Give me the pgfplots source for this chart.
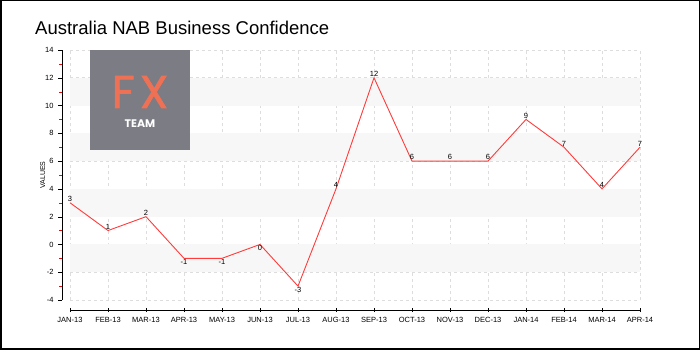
\documentclass[border=0pt]{standalone}
\usepackage{pgfplots}
\pgfplotsset{compat=1.18}
\usepackage{fontspec}
\setmainfont{Liberation Sans}
\newfontfamily\pop{Poppins}
\newfontfamily\popfx[FakeBold=1.5]{Poppins}
\definecolor{bandgray}{HTML}{F7F7F7}
\definecolor{gridgray}{HTML}{DDDDDD}
\definecolor{logogray}{HTML}{7B7C84}
\definecolor{fxorange}{HTML}{EE7155}
\definecolor{linered}{HTML}{FF3B3B}
\begin{document}
\begin{tikzpicture}[x=1pt,y=1pt]
\draw[black, line width=1.5pt] (0.75,0.75) rectangle (699.25,349.25);
\node[anchor=base west, inner sep=0pt, font=\fontsize{18.5}{18.5}\selectfont] at (35,315) {Australia NAB Business Confidence};
\begin{axis}[
  at={(70pt,50pt)}, anchor=south west,
  scale only axis, width=570pt, height=250pt,
  xmin=0, xmax=15, ymin=-4, ymax=14,
  clip=false,
  /pgf/number format/assume math mode=true,
  axis x line*=bottom, axis y line*=left,
  axis x line shift=10pt, axis y line shift=8pt,
  xtick={0,...,15},
  xticklabels={JAN-13,FEB-13,MAR-13,APR-13,MAY-13,JUN-13,JUL-13,AUG-13,SEP-13,OCT-13,NOV-13,DEC-13,JAN-14,FEB-14,MAR-14,APR-14},
  ytick={-4,-2,...,14},
  minor y tick num=1,
  minor tick style={red},
  major tick style={black},
  major tick length=4pt, minor tick length=3pt,
  tick align=outside,
  x tick style={yshift=2pt},
  tick label style={font=\fontsize{7.5}{7.5}\selectfont},
  yticklabel style={xshift=-1pt},
  ylabel={VALUES},
  ylabel style={font=\fontsize{7}{7}\selectfont, yshift=-7pt},
  grid=major,
  major grid style={dashed, gridgray, line width=0.6pt},
  axis line style={black, line width=0.8pt},
  nodes near coords style={font=\fontsize{7.5}{7.5}\selectfont, inner sep=1pt},
]
\fill[bandgray] (axis cs:0,10) rectangle (axis cs:15,12);
\fill[bandgray] (axis cs:0,6) rectangle (axis cs:15,8);
\fill[bandgray] (axis cs:0,2) rectangle (axis cs:15,4);
\fill[bandgray] (axis cs:0,-2) rectangle (axis cs:15,0);
\addplot[linered, line width=0.9pt, mark=none] coordinates {
(0,3) (1,1) (2,2) (3,-1) (4,-1) (5,0) (6,-3) (7,4) (8,12) (9,6) (10,6) (11,6) (12,9) (13,7) (14,4) (15,7)};
\addplot[draw=none, mark=none, nodes near coords, nodes near coords align={above}] coordinates {
(0,3) (1,1) (2,2) (7,4) (8,12) (9,6) (10,6) (11,6) (12,9) (13,7) (14,4) (15,7)};
\addplot[draw=none, mark=none, nodes near coords, nodes near coords align={below}] coordinates {
(3,-1) (4,-1) (5,0) (6,-3)};
\end{axis}
\fill[logogray] (90,200) rectangle (190,300);
\node[anchor=base, text=fxorange, font=\popfx\fontsize{46}{46}\selectfont, inner sep=0pt, text depth=0pt, text height=33pt] at (140,242) {F\kern5pt X};
\node[anchor=base, text=white, font=\pop\bfseries\fontsize{11}{11}\selectfont, inner sep=0pt, text depth=0pt] at (140,222) {TEAM};
\end{tikzpicture}
\end{document}
